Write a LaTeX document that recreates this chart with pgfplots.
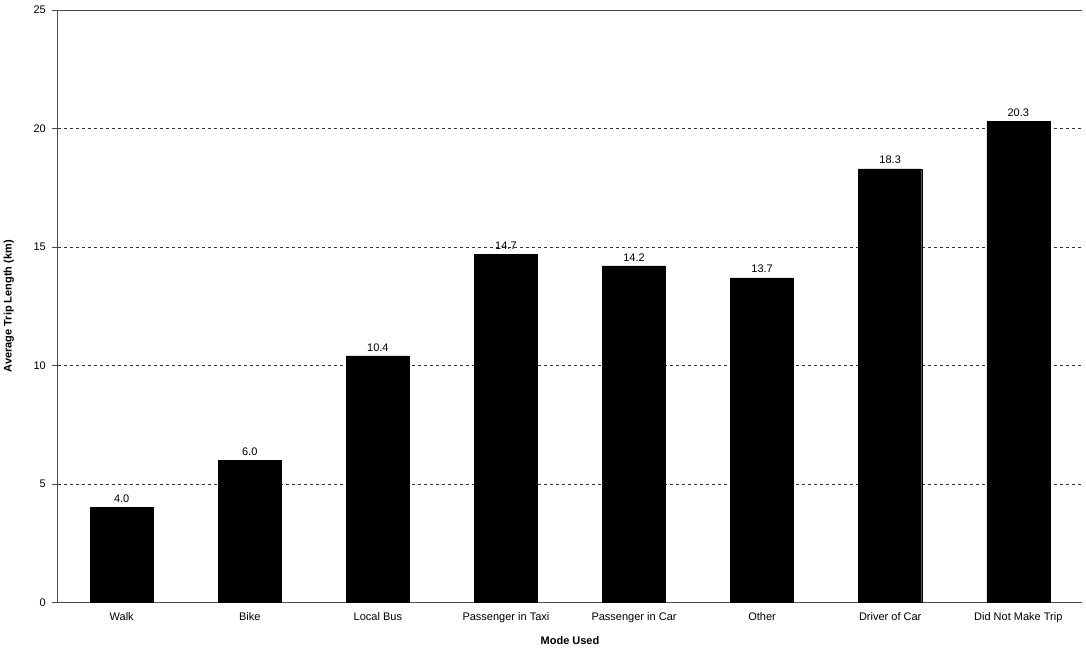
\documentclass[border=0pt]{standalone}
\usepackage{fontspec}
\setmainfont{Liberation Sans}
\usepackage{pgfplots}
\pgfplotsset{compat=1.18}
\begin{document}
\fontsize{11}{13}\selectfont
\begin{tikzpicture}
\begin{axis}[
  scale only axis, width=1024pt, height=592pt,
  xmin=-0.5, xmax=7.5, ymin=0, ymax=25,
  axis x line=bottom, axis y line=left,
  axis line style={-, black!70},
  xtick={0,...,7},
  xticklabels={Walk,Bike,Local Bus,Passenger in Taxi,Passenger in Car,Other,Driver of Car,Did Not Make Trip},
  major x tick style={draw=none},
  extra x ticks={-0.5,0.5,1.5,2.5,3.5,4.5,5.5,6.5,7.5},
  extra x tick labels={},
  extra x tick style={tick align=outside, major tick length=6pt, tick style={black!70}, grid=none},
  ytick={0,5,...,25},
  tick align=outside, major tick length=6pt,
  ytick style={black!70},
  yticklabel style={xshift=-2pt},
  ymajorgrids, grid style={dashed, black!80},
  /pgf/number format/assume math mode=true,
  ticklabel style={font=\fontsize{11}{13}\selectfont},
  xlabel={\textbf{Mode Used}}, ylabel={\textbf{Average Trip Length (km)}},
  label style={font=\fontsize{11}{13}\selectfont},
  xlabel style={yshift=6pt}, ylabel style={yshift=12pt},
  nodes near coords, point meta=explicit symbolic,
  nodes near coords style={font=\fontsize{11}{13}\selectfont, yshift=1pt},
  clip=false,
]
\addplot[ybar, bar width=63pt, fill=black, draw=black] coordinates {
(0,4.0) [4.0] (1,6.0) [6.0] (2,10.4) [10.4] (3,14.7) [14.7]
(4,14.2) [14.2] (5,13.7) [13.7] (6,18.3) [18.3] (7,20.3) [20.3]};
\draw[black!70] (axis cs:-0.5,25) -- (axis cs:7.5,25);
\end{axis}
\path (current axis.north) -- ++(0,10pt);
\end{tikzpicture}
\end{document}
